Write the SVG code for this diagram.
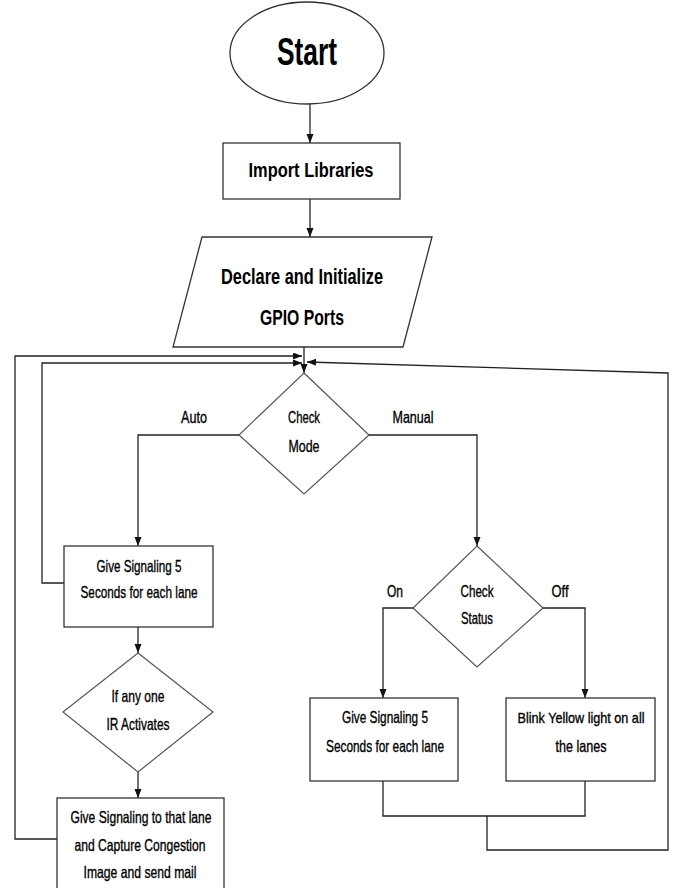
<svg xmlns="http://www.w3.org/2000/svg" width="673" height="888" viewBox="0 0 673 888">
<style>
.shape{fill:#fff;stroke:#333;stroke-width:1.3}
.dia{fill:#fff;stroke:#555;stroke-width:1.2}
.conn{fill:none;stroke:#222;stroke-width:1.3}
text{font-family:"Liberation Sans",Arial,sans-serif;fill:#000;text-anchor:middle}
.big{font-weight:bold}
.sm{font-size:16.5px;stroke:#000;stroke-width:0.35}
</style>
<defs>
<marker id="ah" markerUnits="userSpaceOnUse" markerWidth="10" markerHeight="8" refX="9" refY="3.5" orient="auto">
<path d="M0,0 L9,3.5 L0,7 z" fill="#111"/>
</marker>
</defs>
<rect width="673" height="888" fill="#fff"/>
<g id="connectors">
<line class="conn" x1="310" y1="104" x2="310" y2="143" marker-end="url(#ah)"/>
<line class="conn" x1="310" y1="199" x2="310" y2="237" marker-end="url(#ah)"/>
<line class="conn" x1="304" y1="347" x2="304" y2="373" marker-end="url(#ah)"/>
<polyline class="conn" points="57,839 15,839 15,356 302,356" marker-end="url(#ah)"/>
<polyline class="conn" points="64,583 42,583 42,363 302,363" marker-end="url(#ah)"/>
<polyline class="conn" points="487,816 487,850 668,850 668,373 307,362" marker-end="url(#ah)"/>
<polyline class="conn" points="383,781 383,816 585,816 585,781"/>
<polyline class="conn" points="239,435 138,435 138,546" marker-end="url(#ah)"/>
<polyline class="conn" points="369,435 477,435 477,546" marker-end="url(#ah)"/>
<line class="conn" x1="138" y1="627" x2="138" y2="653" marker-end="url(#ah)"/>
<line class="conn" x1="138" y1="772" x2="138" y2="798" marker-end="url(#ah)"/>
<polyline class="conn" points="413,608 383,608 383,698" marker-end="url(#ah)"/>
<polyline class="conn" points="543,608 585,608 585,698" marker-end="url(#ah)"/>
</g>
<g id="start">
<ellipse class="shape" cx="307" cy="53" rx="77" ry="51"/>
<text class="big" x="307" y="65" font-size="38" textLength="60" lengthAdjust="spacingAndGlyphs">Start</text>
</g>
<g id="import">
<rect class="shape" x="223" y="143" width="177" height="56"/>
<text class="big" x="311" y="177" font-size="19.5" textLength="125" lengthAdjust="spacingAndGlyphs">Import Libraries</text>
</g>
<g id="declare">
<polygon class="shape" points="202,237 432,237 403,347 173,347"/>
<text class="big" x="302" y="284" font-size="21.5" textLength="162" lengthAdjust="spacingAndGlyphs">Declare and Initialize</text>
<text class="big" x="302" y="325" font-size="21.5" textLength="84" lengthAdjust="spacingAndGlyphs">GPIO Ports</text>
</g>
<g id="checkmode">
<polygon class="dia" points="304,373 369,435 304,494 239,435"/>
<text class="sm" x="304" y="423" textLength="32" lengthAdjust="spacingAndGlyphs">Check</text>
<text class="sm" x="304" y="452" textLength="31" lengthAdjust="spacingAndGlyphs">Mode</text>
</g>
<g id="labels">
<text class="sm" x="194" y="423" textLength="26" lengthAdjust="spacingAndGlyphs">Auto</text>
<text class="sm" x="413" y="423" textLength="41" lengthAdjust="spacingAndGlyphs">Manual</text>
<text class="sm" x="395" y="597" textLength="16" lengthAdjust="spacingAndGlyphs">On</text>
<text class="sm" x="560" y="597" textLength="17" lengthAdjust="spacingAndGlyphs">Off</text>
</g>
<g id="autosignal">
<rect class="shape" x="64" y="546" width="149" height="81"/>
<text class="sm" x="139" y="572" textLength="85" lengthAdjust="spacingAndGlyphs">Give Signaling 5</text>
<text class="sm" x="139" y="598" textLength="117" lengthAdjust="spacingAndGlyphs">Seconds for each lane</text>
</g>
<g id="irdecision">
<polygon class="dia" points="138,653 213,712 138,772 63,712"/>
<text class="sm" x="138" y="702" textLength="53" lengthAdjust="spacingAndGlyphs">If any one</text>
<text class="sm" x="138" y="730" textLength="63" lengthAdjust="spacingAndGlyphs">IR Activates</text>
</g>
<g id="capture">
<rect class="shape" x="57" y="798" width="167" height="96"/>
<text class="sm" x="141" y="823" textLength="141" lengthAdjust="spacingAndGlyphs">Give Signaling to that lane</text>
<text class="sm" x="140" y="851" textLength="131" lengthAdjust="spacingAndGlyphs">and Capture Congestion</text>
<text class="sm" x="140" y="878" textLength="113" lengthAdjust="spacingAndGlyphs">Image and send mail</text>
</g>
<g id="checkstatus">
<polygon class="dia" points="477,546 543,608 477,667 413,608"/>
<text class="sm" x="477" y="597" textLength="33" lengthAdjust="spacingAndGlyphs">Check</text>
<text class="sm" x="477" y="624" textLength="32" lengthAdjust="spacingAndGlyphs">Status</text>
</g>
<g id="manualsignal">
<rect class="shape" x="310" y="698" width="148" height="83"/>
<text class="sm" x="385" y="723" textLength="86" lengthAdjust="spacingAndGlyphs">Give Signaling 5</text>
<text class="sm" x="385" y="752" textLength="118" lengthAdjust="spacingAndGlyphs">Seconds for each lane</text>
</g>
<g id="blink">
<rect class="shape" x="506" y="698" width="149" height="83"/>
<text class="sm" x="581" y="723" font-size="15" style="font-size:15px" textLength="127" lengthAdjust="spacingAndGlyphs">Blink Yellow light on all</text>
<text class="sm" x="581" y="752" textLength="51" lengthAdjust="spacingAndGlyphs">the lanes</text>
</g>
</svg>
